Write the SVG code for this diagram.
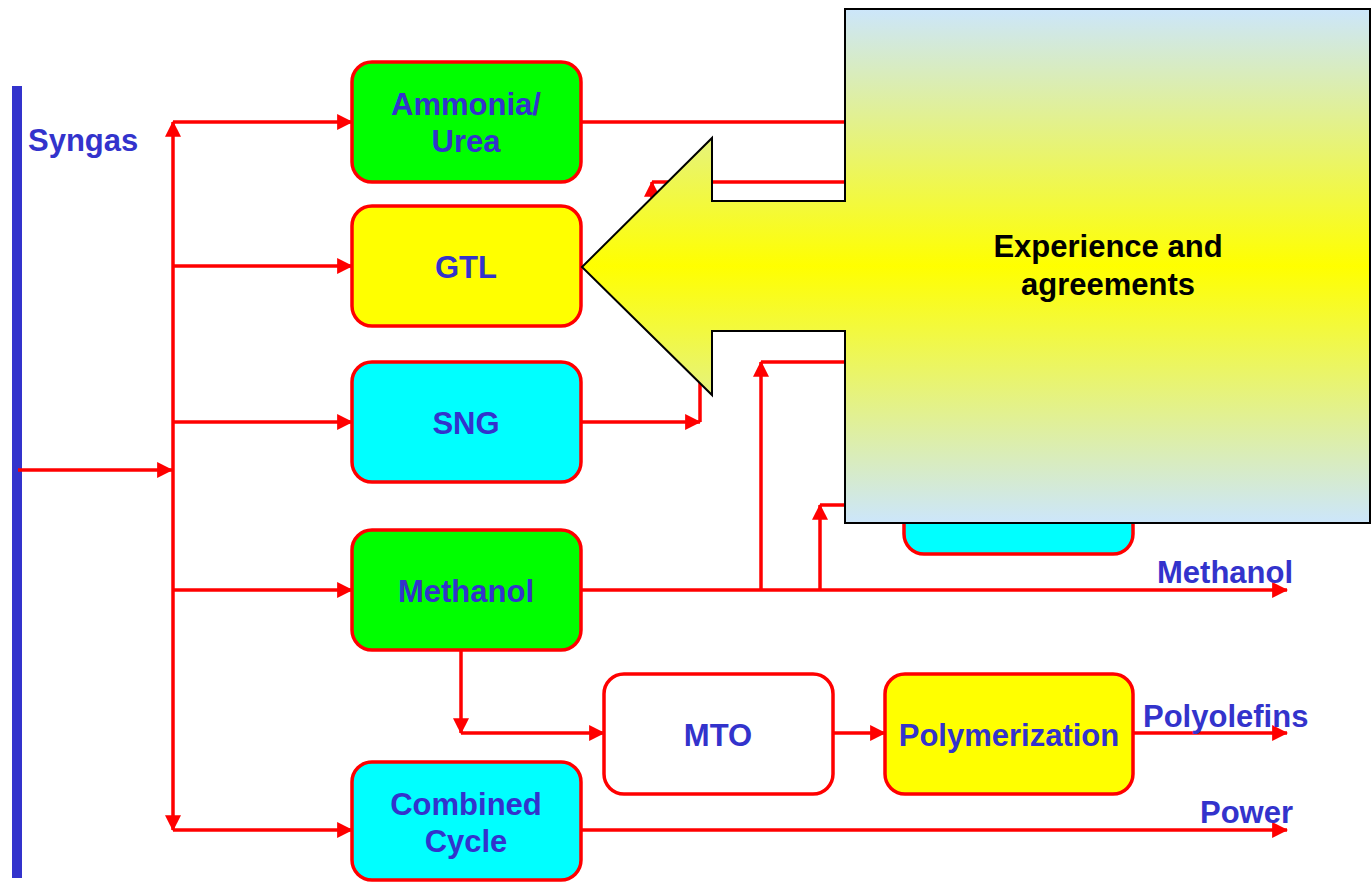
<svg xmlns="http://www.w3.org/2000/svg" width="1372" height="882" viewBox="0 0 1372 882">
<style>
.box{stroke:#ff0000;stroke-width:3.5}
.t{font-family:"Liberation Sans",Arial,sans-serif;font-weight:bold;font-size:31px;fill:#3333cc;text-anchor:middle}
.lbl{font-family:"Liberation Sans",Arial,sans-serif;font-weight:bold;font-size:31px;fill:#3333cc}
.c{fill:none;stroke:#ff0000;stroke-width:3.5}
.ca{fill:none;stroke:#ff0000;stroke-width:3.5;marker-end:url(#ah)}
.k{font-family:"Liberation Sans",Arial,sans-serif;font-weight:bold;font-size:31px;fill:#000000;text-anchor:middle}
</style>
<defs>
<marker id="ah" viewBox="0 0 14 14" refX="13" refY="7" markerWidth="16" markerHeight="16" markerUnits="userSpaceOnUse" orient="auto">
<path d="M0,0 L14,7 L0,14 Z" fill="#ff0000"/>
</marker>
<linearGradient id="g" gradientUnits="userSpaceOnUse" x1="0" y1="9" x2="0" y2="523">
<stop offset="0" stop-color="#cce6fb"/>
<stop offset="0.5" stop-color="#ffff00"/>
<stop offset="1" stop-color="#cce6fb"/>
</linearGradient>
</defs>
<rect width="1372" height="882" fill="#ffffff"/>

<g id="syngas">
<rect x="12" y="86" width="10" height="792" fill="#3333cc"/>
<text class="lbl" x="28" y="151">Syngas</text>
</g>

<g id="connectors">
<line class="ca" x1="18" y1="470" x2="172" y2="470"/>
<line class="ca" x1="173" y1="470" x2="173" y2="122"/>
<line class="ca" x1="173" y1="470" x2="173" y2="830"/>
<line class="ca" x1="173" y1="122" x2="352" y2="122"/>
<line class="ca" x1="173" y1="266" x2="352" y2="266"/>
<line class="ca" x1="173" y1="422" x2="352" y2="422"/>
<line class="ca" x1="173" y1="590" x2="352" y2="590"/>
<line class="ca" x1="173" y1="830" x2="352" y2="830"/>
<line class="c" x1="581" y1="122" x2="880" y2="122"/>
<line class="ca" x1="581" y1="422" x2="700" y2="422"/>
<line class="c" x1="700" y1="422" x2="700" y2="370"/>
<line class="ca" x1="652" y1="300" x2="652" y2="182"/>
<line class="c" x1="652" y1="182" x2="880" y2="182"/>
<line class="ca" x1="581" y1="590" x2="1287" y2="590"/>
<line class="ca" x1="761" y1="590" x2="761" y2="362"/>
<line class="c" x1="761" y1="362" x2="880" y2="362"/>
<line class="ca" x1="820" y1="590" x2="820" y2="505"/>
<line class="c" x1="820" y1="505" x2="880" y2="505"/>
<line class="ca" x1="461" y1="650" x2="461" y2="733"/>
<line class="ca" x1="461" y1="733" x2="604" y2="733"/>
<line class="ca" x1="833" y1="733" x2="885" y2="733"/>
<line class="ca" x1="1133" y1="733" x2="1287" y2="733"/>
<line class="ca" x1="581" y1="830" x2="1287" y2="830"/>
</g>

<g id="ammonia">
<rect class="box" x="352" y="62" width="229" height="120" rx="20" fill="#00ff00"/>
<text class="t" x="466" y="115">Ammonia/</text>
<text class="t" x="466" y="152">Urea</text>
</g>
<g id="gtl">
<rect class="box" x="352" y="206" width="229" height="120" rx="20" fill="#ffff00"/>
<text class="t" x="466" y="278">GTL</text>
</g>
<g id="sng">
<rect class="box" x="352" y="362" width="229" height="120" rx="20" fill="#00ffff"/>
<text class="t" x="466" y="434">SNG</text>
</g>
<g id="methanol">
<rect class="box" x="352" y="530" width="229" height="120" rx="20" fill="#00ff00"/>
<text class="t" x="466" y="602">Methanol</text>
</g>
<g id="combined">
<rect class="box" x="352" y="762" width="229" height="118" rx="20" fill="#00ffff"/>
<text class="t" x="466" y="815">Combined</text>
<text class="t" x="466" y="852">Cycle</text>
</g>
<g id="mto">
<rect class="box" x="604" y="674" width="229" height="120" rx="20" fill="#ffffff"/>
<text class="t" x="718" y="746">MTO</text>
</g>
<g id="polymerization">
<rect class="box" x="885" y="674" width="248" height="120" rx="20" fill="#ffff00"/>
<text class="t" x="1009" y="746">Polymerization</text>
</g>
<g id="hidden-cyan">
<rect class="box" x="904" y="434" width="229" height="120" rx="20" fill="#00ffff"/>
</g>

<g id="outputs">
<text class="lbl" x="1157" y="583">Methanol</text>
<text class="lbl" x="1143" y="727">Polyolefins</text>
<text class="lbl" x="1200" y="823">Power</text>
</g>

<g id="callout">
<path d="M845,9 H1370 V523 H845 V331 H712 V395 L582,267 L712,138 V201 H845 Z" fill="url(#g)" stroke="#000000" stroke-width="2"/>
<text class="k" x="1108" y="257">Experience and</text>
<text class="k" x="1108" y="295">agreements</text>
</g>
</svg>
